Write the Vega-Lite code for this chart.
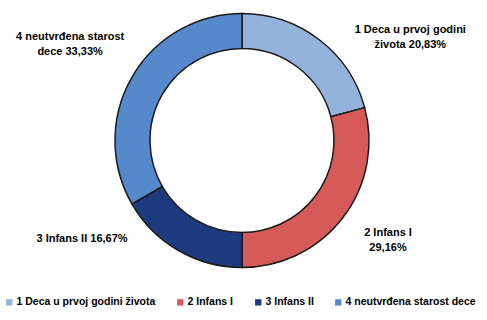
{
  "$schema": "https://vega.github.io/schema/vega-lite/v6.json",
  "width": 484,
  "height": 281,
  "autosize": {"type": "none"},
  "padding": {"left": 0, "top": 0, "right": 3, "bottom": 39},
  "background": "white",
  "data": {
    "values": [
      {"kategorija": "1 Deca u prvoj godini života", "procenat": 20.83, "oznaka": "1 Deca u prvoj godini\nživota 20,83%"},
      {"kategorija": "2 Infans I", "procenat": 29.16, "oznaka": "2 Infans I\n29,16%"},
      {"kategorija": "3 Infans II", "procenat": 16.67, "oznaka": "3 Infans II 16,67%"},
      {"kategorija": "4 neutvrđena starost dece", "procenat": 33.33, "oznaka": "4 neutvrđena starost\ndece 33,33%"}
    ]
  },
  "encoding": {
    "theta": {"field": "procenat", "type": "quantitative", "stack": true},
    "color": {
      "field": "kategorija",
      "type": "nominal",
      "sort": null,
      "scale": {
        "domain": ["1 Deca u prvoj godini života", "2 Infans I", "3 Infans II", "4 neutvrđena starost dece"],
        "range": ["#93B3DD", "#D65A57", "#1E3B80", "#5689CC"]
      },
      "legend": {
        "title": null,
        "orient": "none",
        "legendX": 4,
        "legendY": 297,
        "direction": "horizontal",
        "columns": 4,
        "columnPadding": 19,
        "symbolType": "square",
        "symbolSize": 40,
        "symbolStrokeWidth": 0,
        "labelFont": "Liberation Sans",
        "labelFontSize": 10.5,
        "labelFontWeight": "bold",
        "labelColor": "#000000",
        "labelOffset": 2,
        "labelLimit": 300
      }
    }
  },
  "layer": [
    {
      "mark": {"type": "arc", "outerRadius": 127, "innerRadius": 92, "stroke": "#1a1a1a", "strokeWidth": 1.5}
    },
    {
      "mark": {"type": "text", "radius": 150, "dx": 77, "dy": 8.5, "lineBreak": "\n", "font": "Liberation Sans", "fontSize": 11, "fontWeight": "bold", "align": "center", "baseline": "middle", "lineHeight": 15},
      "encoding": {"text": {"condition": {"test": "datum.kategorija == '1 Deca u prvoj godini života'", "field": "oznaka"}, "value": ""}, "color": {"value": "#000"}}
    },
    {
      "mark": {"type": "text", "radius": 150, "dx": 27, "dy": 1, "lineBreak": "\n", "font": "Liberation Sans", "fontSize": 11, "fontWeight": "bold", "align": "center", "baseline": "middle", "lineHeight": 15},
      "encoding": {"text": {"condition": {"test": "datum.kategorija == '2 Infans I'", "field": "oznaka"}, "value": ""}, "color": {"value": "#000"}}
    },
    {
      "mark": {"type": "text", "radius": 150, "dx": -85, "dy": -31, "lineBreak": "\n", "font": "Liberation Sans", "fontSize": 11, "fontWeight": "bold", "align": "center", "baseline": "middle", "lineHeight": 15},
      "encoding": {"text": {"condition": {"test": "datum.kategorija == '3 Infans II'", "field": "oznaka"}, "value": ""}, "color": {"value": "#000"}}
    },
    {
      "mark": {"type": "text", "radius": 150, "dx": -42, "dy": -29, "lineBreak": "\n", "font": "Liberation Sans", "fontSize": 11, "fontWeight": "bold", "align": "center", "baseline": "middle", "lineHeight": 15},
      "encoding": {"text": {"condition": {"test": "datum.kategorija == '4 neutvrđena starost dece'", "field": "oznaka"}, "value": ""}, "color": {"value": "#000"}}
    }
  ],
  "config": {"view": {"stroke": null}}
}
